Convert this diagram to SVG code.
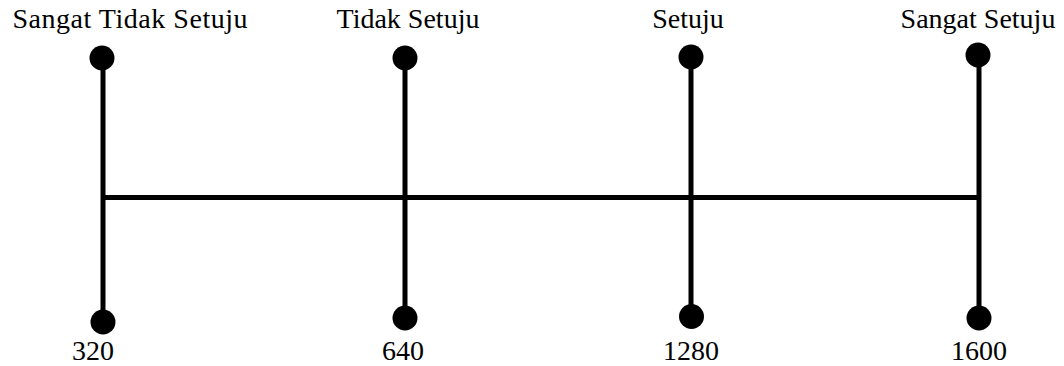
<svg xmlns="http://www.w3.org/2000/svg" width="1064" height="366" viewBox="0 0 1064 366">
  <style>
    .bar { stroke: #000; stroke-width: 5; fill: none; }
    .dot { fill: #000; }
    .lbl { font-family: "Liberation Serif", "Times New Roman", serif; font-size: 28px; fill: #000; text-anchor: middle; }
  </style>
  <rect width="1064" height="366" fill="#fff"/>
  <!-- horizontal scale line -->
  <g id="connectors">
    <line class="bar" x1="103" y1="197.5" x2="979" y2="197.5"/>
  </g>
  <g id="node-stsetuju">
    <line class="bar" x1="103" y1="58" x2="103" y2="322"/>
    <circle class="dot" cx="102" cy="58" r="12.5"/>
    <circle class="dot" cx="103" cy="322" r="12.5"/>
    <text class="lbl" x="130" y="28" textLength="235" lengthAdjust="spacing">Sangat Tidak Setuju</text>
    <text class="lbl" x="93" y="360">320</text>
  </g>
  <g id="node-tsetuju">
    <line class="bar" x1="405" y1="58" x2="405" y2="318"/>
    <circle class="dot" cx="405" cy="58" r="12.5"/>
    <circle class="dot" cx="405" cy="318" r="12.5"/>
    <text class="lbl" x="408" y="28">Tidak Setuju</text>
    <text class="lbl" x="403" y="360">640</text>
  </g>
  <g id="node-setuju">
    <line class="bar" x1="691" y1="57" x2="691" y2="317"/>
    <circle class="dot" cx="691" cy="57" r="12.5"/>
    <circle class="dot" cx="691.5" cy="316.5" r="12.5"/>
    <text class="lbl" x="688" y="28">Setuju</text>
    <text class="lbl" x="691" y="360">1280</text>
  </g>
  <g id="node-ssetuju">
    <line class="bar" x1="979" y1="55" x2="979" y2="318"/>
    <circle class="dot" cx="978" cy="55" r="12.5"/>
    <circle class="dot" cx="979" cy="318" r="12.5"/>
    <text class="lbl" x="978" y="28">Sangat Setuju</text>
    <text class="lbl" x="979" y="360">1600</text>
  </g>
</svg>
